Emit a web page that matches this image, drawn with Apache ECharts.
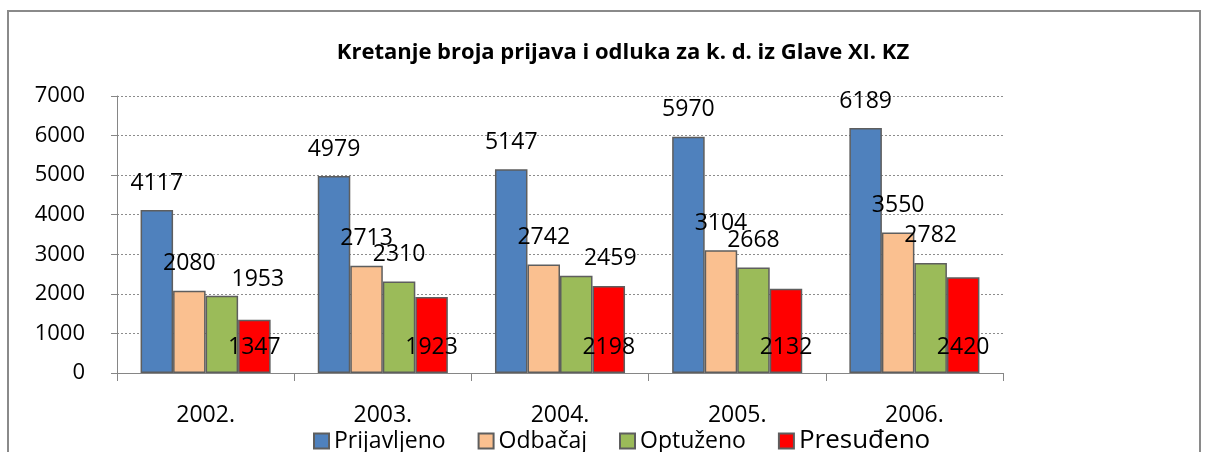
<!DOCTYPE html>
<html>
<head>
<meta charset="utf-8">
<script src="https://cdn.jsdelivr.net/npm/echarts@6/dist/echarts.min.js"></script>
<style>
  html, body { margin: 0; padding: 0; background: #fff; }
  #chart { width: 1208px; height: 452px; }
</style>
</head>
<body>
<div id="chart"></div>
<script>
// podaci iz grafikona
const years = ['2002.', '2003.', '2004.', '2005.', '2006.']
const seriesNames = ['Prijavljeno', 'Odbačaj', 'Optuženo', 'Presuđeno']
const prijavljeno = [4117, 4979, 5147, 5970, 6189]
const odbacaj = [2080, 2713, 2742, 3104, 3550]
const optuzeno = [1953, 2310, 2459, 2668, 2782]
const presudeno = [1347, 1923, 2198, 2132, 2420]
const yTicks = [0, 1000, 2000, 3000, 4000, 5000, 6000, 7000]

const colors = ['#4F81BD', '#FAC090', '#9BBB59', '#FF0000']
const font = 'Open Sans'

// neke oznake su u originalu ručno pomaknute
const greenLabelShift = { 0: [36, 11], 2: [34, 10] }

const chart = echarts.init(document.getElementById('chart'))

const labelBase = {
  show: true,
  color: '#000',
  fontFamily: font,
  fontSize: 23,
  lineHeight: 24
}

const makeSeries = (name, values, idx) => {
  const label = idx === 3
    ? { ...labelBase, position: 'insideBottom', distance: 14 }
    : { ...labelBase, position: 'top', distance: 15 }
  const data = values.map((v, i) => {
    if (idx === 2 && greenLabelShift[i]) {
      return { value: v, label: { offset: greenLabelShift[i] } }
    }
    return v
  })
  return {
    name,
    type: 'bar',
    data,
    barGap: '0%',
    barCategoryGap: '26.6%',
    itemStyle: { color: colors[idx], borderColor: '#5e5e5e', borderWidth: 1.5 },
    label
  }
}

const option = {
  animation: false,
  graphic: [{
    type: 'rect',
    shape: { x: 8, y: 11, width: 1192, height: 470 },
    style: { fill: 'none', stroke: '#8a8a8a', lineWidth: 2 },
    silent: true
  }],
  title: {
    text: 'Kretanje broja prijava i odluka za k. d. iz Glave XI. KZ',
    left: 618,
    textAlign: 'center',
    top: 37,
    textStyle: { fontFamily: font, fontSize: 22, fontWeight: 'bold', color: '#000' }
  },
  legend: {
    data: seriesNames,
    left: 313,
    top: 428,
    padding: 0,
    itemGap: 32,
    itemWidth: 15,
    itemHeight: 15,
    icon: 'rect',
    textStyle: {
      fontFamily: font,
      fontSize: 23,
      color: '#000',
      rich: { big: { fontFamily: font, fontSize: 26, color: '#000' } }
    },
    formatter: name => name === 'Presuđeno' ? '{big|' + name + '}' : name
  },
  grid: { left: 117, right: 205, top: 96, bottom: 79 },
  xAxis: {
    type: 'category',
    data: years,
    axisLine: { lineStyle: { color: '#868686' } },
    axisTick: { show: true, length: 8, lineStyle: { color: '#868686' } },
    axisLabel: { color: '#000', fontFamily: font, fontSize: 23, margin: 31 }
  },
  yAxis: {
    type: 'value',
    min: yTicks[0],
    max: yTicks[yTicks.length - 1],
    interval: 1000,
    axisLine: { show: true, lineStyle: { color: '#868686' } },
    axisTick: { show: true, length: 6, lineStyle: { color: '#868686' } },
    axisLabel: {
      color: '#000', fontFamily: font, fontSize: 22, margin: 32,
      formatter: v => String(v)
    },
    splitLine: { lineStyle: { color: '#8c8c8c', type: [2, 2], width: 1 } }
  },
  series: [
    makeSeries(seriesNames[0], prijavljeno, 0),
    makeSeries(seriesNames[1], odbacaj, 1),
    makeSeries(seriesNames[2], optuzeno, 2),
    makeSeries(seriesNames[3], presudeno, 3)
  ]
}

chart.setOption(option)
</script>
</body>
</html>
